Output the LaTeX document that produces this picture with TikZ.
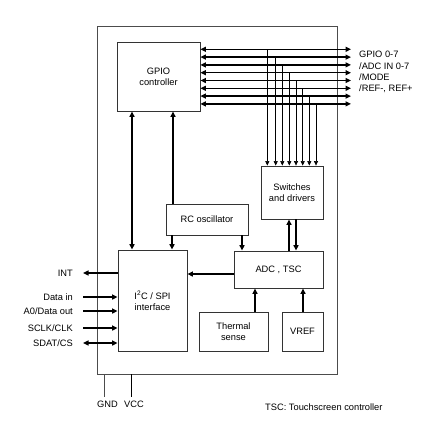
\documentclass[tikz,border=0pt]{standalone}
\usepackage{fontspec}
\setmainfont{Liberation Sans}
\usetikzlibrary{arrows.meta,positioning,calc}
\tikzset{
  blk box/.style   = {draw=black!80, line width=0.8pt, fill=white,
                      align=center, inner sep=0pt,
                      font=\fontsize{9.3}{11}\selectfont},
  chip box/.style  = {draw=black!70, line width=0.9pt, inner sep=0pt},
  arr/.style       = {-{Triangle[length=5.5pt,width=5pt]}, line width=1.3pt},
  dbl arr/.style   = {{Triangle[length=5.5pt,width=5pt]}-{Triangle[length=5.5pt,width=5pt]},
                      line width=1.3pt},
  feed arr/.style  = {-{Triangle[length=4.5pt,width=4pt]}, line width=0.6pt},
  pin lbl/.style   = {inner sep=0pt, font=\fontsize{9.3}{11}\selectfont},
}

\begin{document}
\begin{tikzpicture}[x=1pt,y=-1pt]
  \useasboundingbox (0,0) rectangle (445,426);

  %% --- chip outline and blocks ---------------------------------
  \node[chip box, minimum width=240pt, minimum height=348pt] (chip) at (217,200) {};
  \node[blk box, minimum width=83pt, minimum height=69pt]  (gpio) at (158.5,76.5) {GPIO\\controller};
  \node[blk box, minimum width=62pt, minimum height=53pt]  (sw)   at (292,192.5) {Switches\\and drivers};
  \node[blk box, minimum width=82pt, minimum height=31pt]  (rc)   at (207,219.5) {RC oscillator};
  \node[blk box, minimum width=69pt, minimum height=101pt] (ifc)  at (152.5,300.5) {I\textsuperscript{2}C / SPI\\interface};
  \node[blk box, minimum width=89pt, minimum height=37pt]  (adc)  at (278.5,269.5) {ADC , TSC};
  \node[blk box, minimum width=69pt, minimum height=39pt]  (therm) at (233.5,331.5) {Thermal\\sense};
  \node[blk box, minimum width=41pt, minimum height=39pt]  (vref) at (302.5,331.5) {VREF};

  %% --- GPIO bus ---------------------------------------------------
  \foreach \i/\xs in {0/267.3,1/275.7,2/282.3,3/289.3,4/296,5/302.7,6/309.3,7/316} {
    \coordinate (bus\i) at (351,{49.3+7.8*\i});
    \draw[dbl arr] (gpio.east |- bus\i) -- (bus\i);
    \draw[feed arr] (\xs,0 |- bus\i) -- (\xs,0 |- sw.north);
  }
  \node[pin lbl, anchor=west, align=left, font=\fontsize{9.3}{11.4}\selectfont]
    (buslbl) at (359,72.2) {GPIO 0-7\\/ADC IN 0-7\\/MODE\\/REF-, REF+};

  %% --- internal links ---------------------------------------------
  \draw[dbl arr] (132,0 |- ifc.north) -- (132,0 |- gpio.south);
  \draw[arr] (173,0 |- rc.north) -- (173,0 |- gpio.south);
  \draw[arr] (172,0 |- rc.south) -- (172,0 |- ifc.north);
  \draw[arr] (242,0 |- rc.south) -- (242,0 |- adc.north);
  \draw[arr] (adc.west |- 0,274) -- (ifc.east |- 0,274);
  \draw[arr] (289,0 |- adc.north) -- (289,0 |- sw.south);
  \draw[arr] (296,0 |- sw.south) -- (296,0 |- adc.north);
  \draw[arr] (255,0 |- therm.north) -- (255,0 |- adc.south);
  \draw[arr] (303,0 |- vref.north) -- (303,0 |- adc.south);

  %% --- host pins --------------------------------------------------
  \coordinate (pint) at (83,273);
  \coordinate (pdin) at (83,297);
  \coordinate (pdout) at (83,311);
  \coordinate (pclk) at (83,328);
  \coordinate (pcs) at (83,343);
  \draw[arr] (ifc.west |- pint) -- (pint);
  \draw[arr] (pdin) -- (ifc.west |- pdin);
  \draw[arr] (pdout) -- (ifc.west |- pdout);
  \draw[arr] (pclk) -- (ifc.west |- pclk);
  \draw[dbl arr] (pcs) -- (ifc.west |- pcs);
  \node[pin lbl, left=10pt of pint]  (lint)  {INT};
  \node[pin lbl, left=10pt of pdin]  (ldin)  {Data in};
  \node[pin lbl, left=10pt of pdout] (ldout) {A0/Data out};
  \node[pin lbl, left=10pt of pclk]  (lclk)  {SCLK/CLK};
  \node[pin lbl, left=10pt of pcs]   (lcs)   {SDAT/CS};

  %% --- supply -----------------------------------------------------
  \node[pin lbl, anchor=north west] (gnd) at (97,401) {GND};
  \node[pin lbl, anchor=north west] (vcc) at (124,401) {VCC};
  \draw[line width=0.8pt, black!70, shorten >=4pt] (104,0 |- chip.south) -- (104,0 |- gnd.north);
  \draw[line width=0.8pt, shorten >=4pt] (131,0 |- chip.south) -- (131,0 |- vcc.north);

  %% legend
  \node[pin lbl, anchor=west] (note) at (265,407) {TSC: Touchscreen controller};
\end{tikzpicture}
\end{document}
